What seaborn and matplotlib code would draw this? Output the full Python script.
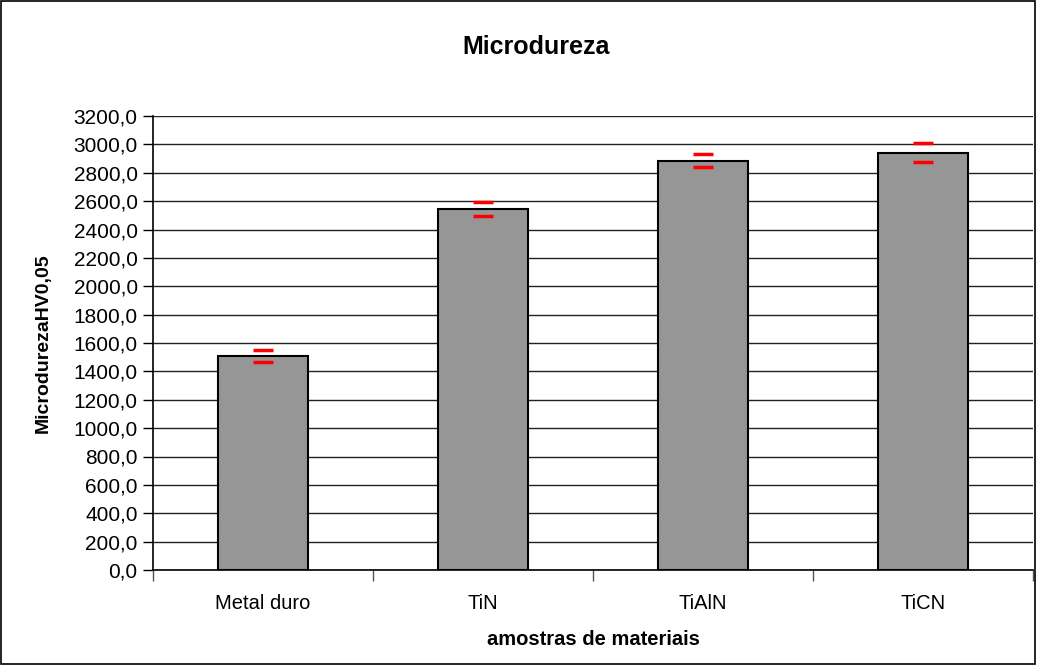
import matplotlib
matplotlib.use('Agg')
import matplotlib.pyplot as plt
import seaborn as sns
import pandas as pd
from matplotlib.patches import Rectangle
from matplotlib.ticker import FuncFormatter, MultipleLocator

# dados
amostras = ['Metal duro', 'TiN', 'TiAlN', 'TiCN']
microdureza = [1508, 2544, 2886, 2942]
desvio = [40, 49, 44, 67]

df = pd.DataFrame({'amostra': amostras, 'hv': microdureza})

sns.set_style('white')
plt.rcParams['font.family'] = ['Liberation Sans', 'DejaVu Sans']
plt.rcParams['text.color'] = 'black'
plt.rcParams['axes.labelcolor'] = 'black'
plt.rcParams['xtick.color'] = 'black'
plt.rcParams['ytick.color'] = 'black'

fig = plt.figure(figsize=(10.37, 6.65), dpi=100)
ax = fig.add_axes([153 / 1037, 1 - 570 / 665, 880 / 1037, 454 / 665])

sns.barplot(x='amostra', y='hv', data=df, color='#969696', edgecolor='black',
            linewidth=1.5, width=0.41, saturation=1, ax=ax, zorder=3)

# barras de erro: so os tracos vermelhos
ax.errorbar(range(len(amostras)), microdureza, yerr=desvio, fmt='none',
            ecolor='red', elinewidth=0, capsize=7, capthick=2.5, zorder=4)

ax.set_ylim(0, 3200)
ax.set_xlim(-0.5, len(amostras) - 0.5)
ax.yaxis.set_major_locator(MultipleLocator(200))
ax.yaxis.set_major_formatter(FuncFormatter(lambda v, p: f'{v:.1f}'.replace('.', ',')))
ax.grid(axis='y', color='#222222', linewidth=1, zorder=0)
ax.set_axisbelow(True)

for s in ['top', 'right']:
    ax.spines[s].set_visible(False)
ax.spines['left'].set_color('black')
ax.spines['bottom'].set_color('black')
ax.spines['left'].set_linewidth(1.2)
ax.spines['bottom'].set_linewidth(1.2)

ax.tick_params(axis='y', which='major', left=True, length=7, width=1, labelsize=15, pad=4)
ax.set_xticks(range(len(amostras)))
ax.set_xticklabels(amostras, fontsize=14.5)
ax.tick_params(axis='x', bottom=False, pad=14)
# marcas entre categorias
ax.set_xticks([i - 0.5 for i in range(len(amostras) + 1)], minor=True)
ax.tick_params(axis='x', which='minor', bottom=True, length=8, width=1, color='#555555')

ax.set_xlabel('amostras de materiais', fontsize=14.5, fontweight='bold', labelpad=12)
ax.set_ylabel('MicrodurezaHV0,05', fontsize=14, fontweight='bold', labelpad=16)
fig.text(0.517, 1 - 47 / 665, 'Microdureza', fontsize=18, fontweight='bold',
         ha='center', va='center')

fig.patches.append(Rectangle((0.001, 0.002), 0.997, 0.996, transform=fig.transFigure,
                             fill=False, edgecolor='black', linewidth=1.2))

fig.savefig('out.png', dpi=100)
